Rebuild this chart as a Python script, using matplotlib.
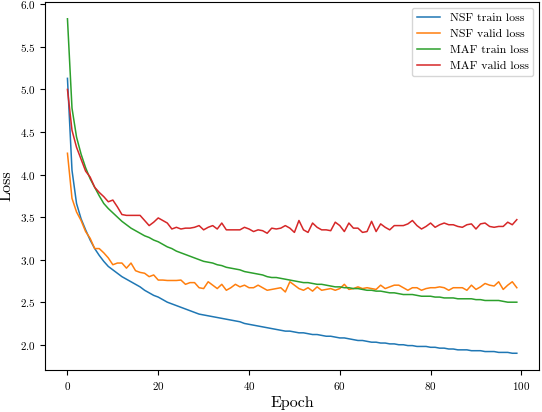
import matplotlib
matplotlib.use("Agg")
import matplotlib.pyplot as plt
import numpy as np

plt.rcParams['font.family'] = 'serif'
plt.rcParams['font.serif'] = ['cmr10', 'DejaVu Serif']
plt.rcParams['axes.formatter.use_mathtext'] = True
plt.rcParams['mathtext.fontset'] = 'cm'

epochs = np.arange(100)

nsf_train = [5.13, 4.05, 3.66, 3.48, 3.35, 3.23, 3.13, 3.05, 2.98, 2.92,
             2.88, 2.84, 2.80, 2.77, 2.74, 2.71, 2.68, 2.64, 2.61, 2.58,
             2.56, 2.53, 2.50, 2.48, 2.46, 2.44, 2.42, 2.40, 2.38, 2.36,
             2.35, 2.34, 2.33, 2.32, 2.31, 2.30, 2.29, 2.28, 2.27, 2.25,
             2.24, 2.23, 2.22, 2.21, 2.20, 2.19, 2.18, 2.17, 2.16, 2.16,
             2.15, 2.14, 2.14, 2.13, 2.12, 2.12, 2.11, 2.10, 2.10, 2.09,
             2.08, 2.08, 2.07, 2.06, 2.05, 2.05, 2.04, 2.03, 2.03, 2.02,
             2.02, 2.01, 2.01, 2.00, 2.00, 1.99, 1.99, 1.98, 1.98, 1.98,
             1.97, 1.97, 1.96, 1.96, 1.95, 1.95, 1.94, 1.94, 1.94, 1.93,
             1.93, 1.93, 1.92, 1.92, 1.92, 1.91, 1.91, 1.91, 1.90, 1.90]

nsf_valid = [4.25, 3.72, 3.56, 3.46, 3.33, 3.25, 3.13, 3.13, 3.08, 3.02,
             2.94, 2.96, 2.96, 2.90, 2.96, 2.87, 2.85, 2.84, 2.80, 2.82,
             2.76, 2.76, 2.755, 2.755, 2.755, 2.76, 2.71, 2.73, 2.73, 2.67,
             2.66, 2.74, 2.70, 2.66, 2.71, 2.64, 2.67, 2.71, 2.68, 2.70,
             2.67, 2.67, 2.70, 2.67, 2.64, 2.65, 2.66, 2.67, 2.62, 2.74,
             2.70, 2.66, 2.64, 2.67, 2.63, 2.68, 2.64, 2.65, 2.66, 2.64,
             2.66, 2.71, 2.65, 2.66, 2.68, 2.66, 2.67, 2.66, 2.65, 2.70,
             2.66, 2.68, 2.70, 2.70, 2.67, 2.64, 2.67, 2.67, 2.64, 2.66,
             2.67, 2.67, 2.68, 2.67, 2.64, 2.67, 2.67, 2.67, 2.64, 2.70,
             2.65, 2.68, 2.72, 2.70, 2.69, 2.74, 2.65, 2.70, 2.74, 2.67]

maf_train = [5.83, 4.78, 4.44, 4.24, 4.08, 3.95, 3.85, 3.75, 3.66, 3.60,
             3.55, 3.50, 3.45, 3.41, 3.37, 3.34, 3.31, 3.28, 3.26, 3.23,
             3.21, 3.18, 3.15, 3.13, 3.10, 3.08, 3.06, 3.04, 3.02, 3.00,
             2.98, 2.97, 2.96, 2.94, 2.93, 2.91, 2.90, 2.89, 2.88, 2.86,
             2.85, 2.84, 2.83, 2.82, 2.80, 2.79, 2.79, 2.78, 2.77, 2.76,
             2.75, 2.74, 2.73, 2.73, 2.72, 2.71, 2.71, 2.70, 2.69, 2.68,
             2.68, 2.67, 2.67, 2.66, 2.66, 2.65, 2.64, 2.64, 2.63, 2.63,
             2.62, 2.61, 2.61, 2.60, 2.59, 2.59, 2.59, 2.58, 2.57, 2.57,
             2.57, 2.56, 2.56, 2.55, 2.55, 2.55, 2.54, 2.54, 2.54, 2.54,
             2.53, 2.53, 2.52, 2.52, 2.52, 2.52, 2.51, 2.50, 2.50, 2.50]

maf_valid = [5.00, 4.52, 4.32, 4.18, 4.04, 3.97, 3.85, 3.79, 3.74, 3.68,
             3.70, 3.62, 3.53, 3.52, 3.52, 3.52, 3.52, 3.46, 3.40, 3.44,
             3.49, 3.46, 3.43, 3.36, 3.38, 3.36, 3.37, 3.37, 3.38, 3.40,
             3.35, 3.38, 3.40, 3.36, 3.43, 3.35, 3.35, 3.35, 3.35, 3.38,
             3.36, 3.33, 3.35, 3.34, 3.31, 3.37, 3.36, 3.37, 3.40, 3.37,
             3.32, 3.46, 3.35, 3.32, 3.43, 3.38, 3.35, 3.35, 3.34, 3.44,
             3.40, 3.33, 3.43, 3.37, 3.37, 3.32, 3.33, 3.45, 3.33, 3.42,
             3.38, 3.35, 3.40, 3.40, 3.40, 3.42, 3.46, 3.40, 3.36, 3.39,
             3.43, 3.38, 3.41, 3.43, 3.41, 3.41, 3.39, 3.38, 3.41, 3.42,
             3.36, 3.42, 3.43, 3.39, 3.38, 3.39, 3.39, 3.44, 3.41, 3.47]

fig = plt.figure(figsize=(5.42, 4.12), dpi=100)
ax = fig.add_axes([0.083, 0.102, 0.912, 0.893])

ax.plot(epochs, nsf_train, lw=1.1, label='NSF train loss')
ax.plot(epochs, nsf_valid, lw=1.1, label='NSF valid loss')
ax.plot(epochs, maf_train, lw=1.1, label='MAF train loss')
ax.plot(epochs, maf_valid, lw=1.1, label='MAF valid loss')

ax.set_xlabel('Epoch', fontsize=11.5, labelpad=3)
ax.set_ylabel('Loss', fontsize=11.5, labelpad=4)
ax.tick_params(labelsize=8)
ax.legend(loc='upper right', fontsize=8.5)

fig.savefig('out.png', dpi=100)
